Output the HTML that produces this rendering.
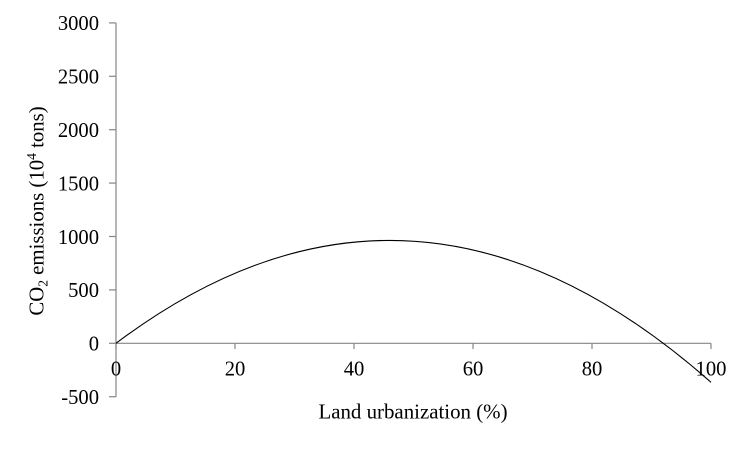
<!DOCTYPE html>
<html>
<head>
<meta charset="utf-8">
<style>
html,body{margin:0;padding:0;background:#fff;}
svg{display:block;}
text{font-family:"Liberation Serif","Times New Roman",serif;fill:#000;}
</style>
</head>
<body>
<svg width="750" height="450" viewBox="0 0 750 450" xmlns="http://www.w3.org/2000/svg">
<rect width="750" height="450" fill="#fff"/>
<g stroke="#868686" stroke-width="1.2" fill="none">
<line x1="116" y1="22.9" x2="116" y2="396.7"/>
<line x1="116" y1="343.3" x2="711" y2="343.3"/>
<line x1="109" y1="22.9" x2="116" y2="22.9"/>
<line x1="109" y1="76.3" x2="116" y2="76.3"/>
<line x1="109" y1="129.7" x2="116" y2="129.7"/>
<line x1="109" y1="183.1" x2="116" y2="183.1"/>
<line x1="109" y1="236.5" x2="116" y2="236.5"/>
<line x1="109" y1="289.9" x2="116" y2="289.9"/>
<line x1="109" y1="343.3" x2="116" y2="343.3"/>
<line x1="109" y1="396.7" x2="116" y2="396.7"/>
<line x1="116" y1="343.3" x2="116" y2="349"/>
<line x1="235" y1="343.3" x2="235" y2="349"/>
<line x1="354" y1="343.3" x2="354" y2="349"/>
<line x1="473" y1="343.3" x2="473" y2="349"/>
<line x1="592" y1="343.3" x2="592" y2="349"/>
<line x1="711" y1="343.3" x2="711" y2="349"/>
</g>
<path d="M116,343.3 Q413.5,119.6 711,382.3" stroke="#000" stroke-width="1.1" fill="none"/>
<g font-size="20.6" text-anchor="end">
<text x="99" y="30.2">3000</text>
<text x="99" y="83.6">2500</text>
<text x="99" y="137">2000</text>
<text x="99" y="190.4">1500</text>
<text x="99" y="243.8">1000</text>
<text x="99" y="297.2">500</text>
<text x="99" y="350.6">0</text>
<text x="99" y="404">-500</text>
</g>
<g font-size="20.6" text-anchor="middle">
<text x="116" y="375.5">0</text>
<text x="235" y="375.5">20</text>
<text x="354" y="375.5">40</text>
<text x="473" y="375.5">60</text>
<text x="592" y="375.5">80</text>
<text x="711" y="375.5">100</text>
<text x="413" y="418.5" font-size="20.9">Land urbanization (%)</text>
</g>
<text font-size="20.8" text-anchor="middle" transform="translate(43.5,211) rotate(-90)">CO<tspan font-size="13.5" dy="4">2</tspan><tspan dy="-4"> emissions (10</tspan><tspan font-size="13.5" dy="-7.5">4</tspan><tspan dy="7.5"> tons)</tspan></text>
</svg>
</body>
</html>
